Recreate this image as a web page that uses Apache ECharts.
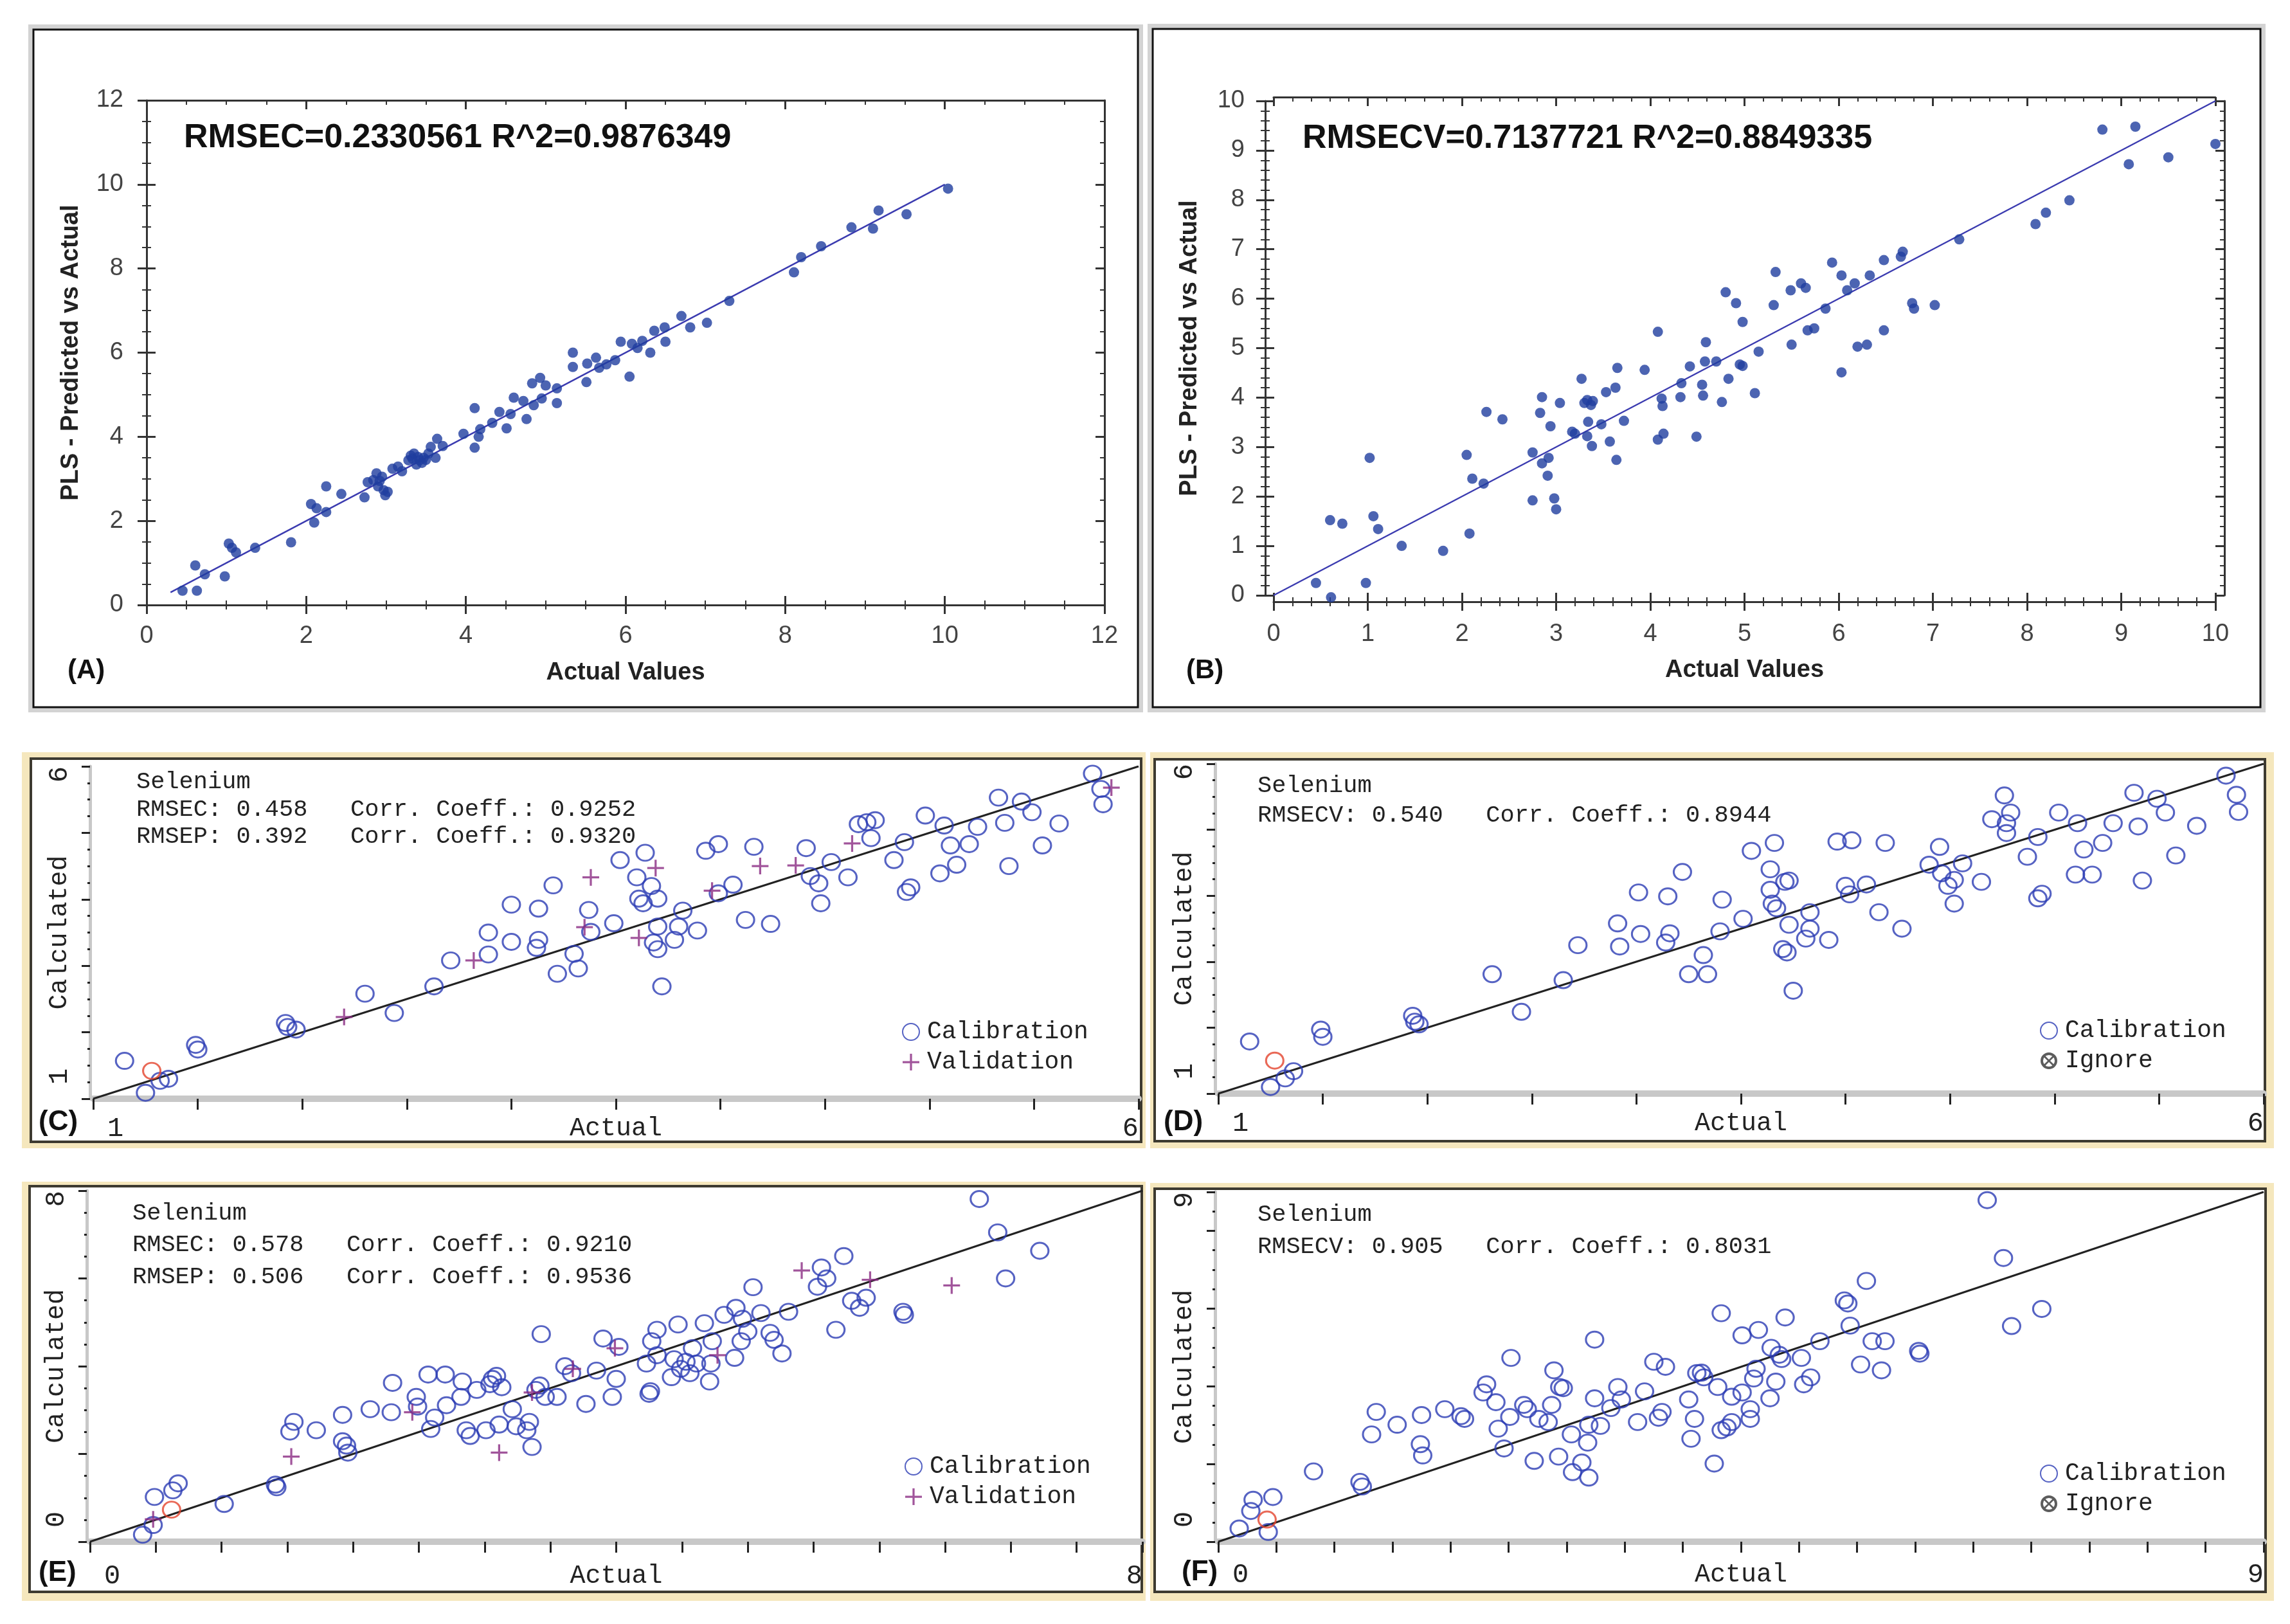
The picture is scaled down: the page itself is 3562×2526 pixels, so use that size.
<!DOCTYPE html>
<html>
<head>
<meta charset="utf-8">
<title>Selenium PLS plots</title>
<script src="https://cdn.jsdelivr.net/npm/echarts@6.0.0/dist/echarts.min.js"></script>
<style>
  html, body { margin: 0; padding: 0; background: #fff; }
  #main { width: 3562px; height: 2526px; }
</style>
</head>
<body>
<div id="main"></div>
<script>
// values: [actual, predicted]
var aPoints = [
    [0.45, 0.34], [0.63, 0.34], [0.61, 0.94], [0.73, 0.73], [0.98, 0.68], [1.03, 1.46], [1.07, 1.36], [1.12, 1.25], [1.36, 1.36], [1.81, 1.49],
    [2.06, 2.40], [2.13, 2.30], [2.10, 1.96], [2.25, 2.21], [2.25, 2.82], [2.44, 2.64], [2.73, 2.56], [2.77, 2.92], [2.84, 2.97], [2.88, 3.13],
    [2.90, 2.82], [2.95, 3.05], [2.97, 2.73], [2.99, 2.61], [3.02, 2.69], [3.08, 3.24], [3.15, 3.29], [3.20, 3.18], [3.28, 3.44], [3.31, 3.55],
    [3.35, 3.60], [3.38, 3.34], [3.42, 3.44], [3.47, 3.50], [3.53, 3.60], [3.56, 3.76], [3.62, 3.50], [3.64, 3.95], [3.71, 3.78], [3.97, 4.07],
    [4.11, 4.68], [4.11, 3.74], [4.16, 4.00], [4.18, 4.18], [4.33, 4.33], [4.42, 4.59], [4.51, 4.20], [4.56, 4.54], [4.60, 4.93], [4.72, 4.85],
    [4.76, 4.42], [4.83, 5.27], [4.85, 4.75], [4.93, 5.40], [4.95, 4.91], [5.00, 5.22], [5.14, 5.15], [5.14, 4.80], [5.34, 6.00], [5.34, 5.66],
    [5.51, 5.30], [5.52, 5.74], [5.63, 5.88], [5.67, 5.64], [5.76, 5.72], [5.87, 5.82], [5.94, 6.26], [6.05, 5.43], [6.08, 6.21], [6.15, 6.11],
    [6.21, 6.28], [6.31, 6.00], [6.36, 6.52], [6.49, 6.60], [6.50, 6.26], [6.70, 6.87], [6.81, 6.60], [7.02, 6.71], [7.30, 7.23], [8.11, 7.91],
    [8.20, 8.27], [8.45, 8.53], [8.83, 8.98], [9.10, 8.95], [9.17, 9.38], [9.52, 9.29], [10.04, 9.90],
    [3.33, 3.48], [3.45, 3.38], [3.50, 3.45], [2.92, 2.95], [3.40, 3.52]
];
var aFit = [[0.3, 0.3], [10, 10]];

var bPoints = [
    [0.45, 0.25], [0.61, -0.04], [0.60, 1.52], [0.73, 1.45], [0.98, 0.25], [1.02, 2.78], [1.06, 1.60], [1.11, 1.34], [1.36, 1.00], [1.80, 0.90],
    [2.05, 2.84], [2.08, 1.25], [2.11, 2.36], [2.23, 2.26], [2.26, 3.71], [2.43, 3.56], [2.75, 2.89], [2.75, 1.92], [2.83, 3.69], [2.85, 4.01],
    [2.85, 2.67], [2.92, 2.78], [2.91, 2.42], [2.94, 3.42], [2.98, 1.96], [3.00, 1.74], [3.04, 3.89], [3.17, 3.31], [3.20, 3.27], [3.27, 4.38],
    [3.30, 3.89], [3.33, 3.95], [3.34, 3.51], [3.33, 3.22], [3.37, 3.85], [3.38, 3.02], [3.39, 3.93], [3.48, 3.46], [3.53, 4.11], [3.57, 3.11],
    [3.63, 4.20], [3.64, 2.74], [3.65, 4.60], [3.72, 3.53], [3.94, 4.56], [4.08, 5.33], [4.08, 3.15], [4.12, 3.98], [4.13, 3.83], [4.14, 3.27],
    [4.32, 4.01], [4.33, 4.29], [4.42, 4.63], [4.49, 3.21], [4.55, 4.26], [4.56, 4.04], [4.58, 4.73], [4.59, 5.12], [4.70, 4.73], [4.76, 3.91],
    [4.80, 6.13], [4.83, 4.38], [4.91, 5.91], [4.95, 4.67], [4.98, 4.64], [4.98, 5.53], [5.11, 4.09], [5.15, 4.93], [5.31, 5.87], [5.33, 6.54],
    [5.49, 6.17], [5.50, 5.07], [5.60, 6.31], [5.65, 6.22], [5.67, 5.36], [5.74, 5.40], [5.86, 5.80], [5.93, 6.73], [6.03, 4.51], [6.03, 6.47],
    [6.09, 6.17], [6.17, 6.31], [6.20, 5.03], [6.30, 5.07], [6.33, 6.47], [6.48, 6.78], [6.48, 5.36], [6.66, 6.85], [6.68, 6.95], [6.78, 5.91],
    [6.80, 5.80], [7.02, 5.87], [7.28, 7.20], [8.09, 7.51], [8.20, 7.74], [8.45, 7.99], [8.80, 9.42], [9.08, 8.72], [9.15, 9.48], [9.50, 8.86],
    [10.0, 9.13]
];
var bFit = [[0, 0], [10, 10]];

var cCalibration = [
    [1.15, 1.57], [1.25, 1.09], [1.32, 1.27], [1.36, 1.30], [1.49, 1.81], [1.50, 1.74], [1.92, 2.14], [1.93, 2.08], [1.97, 2.04], [2.30, 2.58],
    [2.44, 2.29], [2.63, 2.69], [2.71, 3.08], [2.89, 3.17], [2.89, 3.50], [3.00, 3.92], [3.00, 3.36], [3.12, 3.27], [3.13, 3.39], [3.13, 3.86],
    [3.20, 4.21], [3.22, 2.88], [3.30, 3.18], [3.32, 2.96], [3.37, 3.84], [3.38, 3.51], [3.49, 3.64], [3.52, 4.59], [3.60, 4.33], [3.61, 4.01],
    [3.64, 4.70], [3.63, 3.94], [3.67, 4.20], [3.68, 3.35], [3.70, 4.01], [3.70, 3.59], [3.70, 3.25], [3.72, 2.69], [3.78, 3.39], [3.80, 3.59],
    [3.82, 3.83], [3.89, 3.53], [3.93, 4.73], [3.99, 4.09], [3.99, 4.83], [4.06, 4.22], [4.12, 3.69], [4.16, 4.79], [4.24, 3.63], [4.41, 4.77],
    [4.43, 4.35], [4.47, 4.24], [4.48, 3.94], [4.53, 4.56], [4.61, 4.33], [4.66, 5.13], [4.70, 5.16], [4.74, 5.19], [4.72, 4.92], [4.83, 4.59],
    [4.88, 4.86], [4.89, 4.11], [4.91, 4.18], [4.98, 5.26], [5.05, 4.39], [5.07, 5.11], [5.10, 4.81], [5.13, 4.52], [5.19, 4.83], [5.23, 5.09],
    [5.33, 5.53], [5.36, 5.15], [5.38, 4.50], [5.44, 5.47], [5.49, 5.31], [5.54, 4.81], [5.62, 5.14], [5.78, 5.89], [5.82, 5.66], [5.83, 5.43]
];
var cValidation = [
    [2.20, 2.23], [2.82, 3.08], [3.35, 3.58], [3.38, 4.33], [3.61, 3.42], [3.69, 4.47], [3.96, 4.13], [4.19, 4.50], [4.36, 4.51], [4.63, 4.84], [5.87, 5.68]
];
var cOutlier = [[1.28, 1.42]];
var cFit = [[1, 1], [6, 6]];

var dCalibration = [
    [1.15, 1.79], [1.25, 1.10], [1.32, 1.23], [1.36, 1.34], [1.49, 1.97], [1.50, 1.86], [1.93, 2.18], [1.94, 2.09], [1.96, 2.05], [2.31, 2.81],
    [2.45, 2.24], [2.65, 2.72], [2.72, 3.25], [2.91, 3.58], [2.92, 3.23], [3.01, 4.05], [3.02, 3.42], [3.14, 3.29], [3.16, 3.43], [3.15, 3.99],
    [3.22, 4.36], [3.25, 2.81], [3.32, 3.10], [3.34, 2.81], [3.40, 3.46], [3.41, 3.94], [3.51, 3.65], [3.55, 4.68], [3.64, 4.40], [3.66, 4.80],
    [3.64, 4.09], [3.65, 3.88], [3.67, 3.81], [3.71, 4.21], [3.73, 4.23], [3.73, 3.56], [3.70, 3.19], [3.72, 3.14], [3.75, 2.56], [3.81, 3.35],
    [3.83, 3.50], [3.83, 3.75], [3.92, 3.33], [3.96, 4.82], [4.03, 4.84], [4.00, 4.15], [4.02, 4.02], [4.10, 4.17], [4.16, 3.75], [4.19, 4.80],
    [4.27, 3.50], [4.40, 4.47], [4.45, 4.74], [4.46, 4.34], [4.49, 4.15], [4.52, 3.88], [4.52, 4.24], [4.56, 4.49], [4.65, 4.21], [4.70, 5.16],
    [4.76, 5.52], [4.79, 5.26], [4.77, 5.10], [4.77, 4.95], [4.87, 4.59], [4.92, 4.89], [4.92, 3.96], [4.94, 4.03], [5.02, 5.26], [5.10, 4.32],
    [5.11, 5.10], [5.14, 4.70], [5.18, 4.32], [5.23, 4.80], [5.28, 5.10], [5.38, 5.56], [5.40, 5.05], [5.42, 4.23], [5.49, 5.47], [5.53, 5.26],
    [5.58, 4.61], [5.68, 5.06], [5.82, 5.82], [5.87, 5.53], [5.88, 5.27]
];
var dOutlier = [[1.27, 1.50]];
var dFit = [[1, 1], [6, 6]];

var eCalibration = [
    [0.40, 0.16], [0.48, 0.38], [0.49, 1.02], [0.63, 1.17], [0.67, 1.33], [1.02, 0.86], [1.41, 1.30], [1.42, 1.24], [1.52, 2.51], [1.55, 2.73],
    [1.72, 2.54], [1.92, 2.89], [1.92, 2.29], [1.95, 2.19], [1.96, 2.03], [2.13, 3.02], [2.29, 2.95], [2.30, 3.62], [2.48, 3.30], [2.49, 3.08],
    [2.57, 3.81], [2.59, 2.57], [2.62, 2.83], [2.70, 3.81], [2.71, 3.11], [2.82, 3.30], [2.83, 3.65], [2.86, 2.54], [2.89, 2.41], [2.94, 3.46],
    [3.01, 2.54], [3.04, 3.59], [3.06, 3.71], [3.09, 3.78], [3.11, 2.67], [3.13, 3.52], [3.21, 3.02], [3.24, 2.63], [3.32, 2.54], [3.34, 2.73],
    [3.36, 2.16], [3.39, 3.46], [3.42, 3.56], [3.43, 4.73], [3.46, 3.30], [3.55, 3.30], [3.61, 4.00], [3.66, 3.84], [3.77, 3.14], [3.85, 3.90],
    [3.90, 4.63], [3.97, 3.30], [4.00, 3.71], [4.02, 4.44], [4.23, 4.06], [4.25, 3.37], [4.26, 3.43], [4.27, 4.57], [4.31, 4.83], [4.31, 4.25],
    [4.42, 3.75], [4.44, 4.16], [4.47, 4.95], [4.49, 3.94], [4.53, 4.10], [4.56, 3.84], [4.58, 4.41], [4.61, 4.06], [4.67, 4.98], [4.71, 3.65],
    [4.72, 4.06], [4.73, 4.57], [4.82, 5.17], [4.90, 4.19], [4.91, 5.33], [4.95, 4.57], [4.96, 5.08], [5.00, 4.79], [5.04, 5.80], [5.10, 5.21],
    [5.17, 4.76], [5.20, 4.60], [5.26, 4.29], [5.31, 5.24], [5.53, 5.81], [5.56, 6.25], [5.60, 6.00], [5.67, 4.83], [5.73, 6.51], [5.79, 5.49],
    [5.85, 5.33], [5.90, 5.56], [6.18, 5.24], [6.19, 5.17], [6.76, 7.81], [6.90, 7.05], [6.96, 6.00], [7.22, 6.63]
];
var eValidation = [
    [0.48, 0.51], [1.53, 1.94], [2.45, 2.95], [3.11, 2.03], [3.36, 3.40], [3.67, 3.94], [3.99, 4.41], [4.77, 4.25], [5.41, 6.18], [5.93, 5.97], [6.55, 5.84]
];
var eOutlier = [[0.62, 0.73]];
var eFit = [[0, 0], [8, 8]];

var fCalibration = [
    [0.18, 0.34], [0.28, 0.79], [0.30, 1.08], [0.43, 0.25], [0.47, 1.15], [0.82, 1.81], [1.22, 1.54], [1.24, 1.42], [1.32, 2.76], [1.36, 3.34],
    [1.54, 3.01], [1.74, 2.51], [1.76, 2.22], [1.75, 3.26], [1.95, 3.41], [2.09, 3.23], [2.12, 3.16], [2.28, 3.84], [2.31, 4.05], [2.39, 3.59],
    [2.41, 2.91], [2.46, 2.40], [2.51, 3.21], [2.52, 4.73], [2.63, 3.52], [2.66, 3.41], [2.72, 2.08], [2.76, 3.16], [2.84, 3.08], [2.87, 3.52],
    [2.89, 4.41], [2.93, 2.19], [2.94, 3.98], [2.97, 3.95], [3.04, 2.76], [3.05, 1.79], [3.13, 2.04], [3.18, 2.55], [3.19, 1.65], [3.19, 3.01],
    [3.24, 3.69], [3.24, 5.20], [3.29, 2.98], [3.38, 3.44], [3.44, 3.98], [3.47, 3.66], [3.61, 3.08], [3.67, 3.87], [3.75, 4.63], [3.79, 3.19],
    [3.82, 3.34], [3.85, 4.50], [4.05, 3.66], [4.07, 2.65], [4.10, 3.16], [4.12, 4.34], [4.16, 4.35], [4.18, 4.23], [4.27, 2.01], [4.30, 3.98],
    [4.33, 5.88], [4.33, 2.87], [4.38, 2.94], [4.42, 3.73], [4.42, 3.08], [4.51, 3.84], [4.51, 5.31], [4.58, 3.41], [4.58, 3.16], [4.61, 4.20],
    [4.63, 4.45], [4.65, 5.45], [4.75, 3.69], [4.76, 4.99], [4.80, 4.12], [4.83, 4.81], [4.85, 4.70], [4.88, 5.77], [5.02, 4.73], [5.04, 4.05],
    [5.10, 4.23], [5.18, 5.16], [5.39, 6.21], [5.42, 6.13], [5.44, 5.56], [5.53, 4.56], [5.58, 6.71], [5.63, 5.16], [5.71, 4.41], [5.74, 5.16],
    [6.03, 4.91], [6.04, 4.84], [6.62, 8.79], [6.76, 7.30], [6.83, 5.55], [7.09, 5.99]
];
var fOutlier = [[0.42, 0.57]];
var fFit = [[0, 0], [9, 9]];

var statsA = 'RMSEC=0.2330561 R^2=0.9876349';
var statsB = 'RMSECV=0.7137721 R^2=0.8849335';
var statsC = ['Selenium', 'RMSEC: 0.458   Corr. Coeff.: 0.9252', 'RMSEP: 0.392   Corr. Coeff.: 0.9320'];
var statsD = ['Selenium', 'RMSECV: 0.540   Corr. Coeff.: 0.8944'];
var statsE = ['Selenium', 'RMSEC: 0.578   Corr. Coeff.: 0.9210', 'RMSEP: 0.506   Corr. Coeff.: 0.9536'];
var statsF = ['Selenium', 'RMSECV: 0.905   Corr. Coeff.: 0.8031'];

var SANS = '"Liberation Sans", Arial, sans-serif';
var MONO = '"Liberation Mono", "DejaVu Sans Mono", monospace';
var DOT_BLUE = '#1f3d9f';
var RING_BLUE = '#2c3cb4';
var PURPLE = '#8a2a82';
var PLUS = 'path://M10.5,0 H13.5 V10.5 H24 V13.5 H13.5 V24 H10.5 V13.5 H0 V10.5 H10.5 Z';
var IGNORE = 'path://M0,-10 A10,10 0 1 1 0,10 A10,10 0 1 1 0,-10 Z M0,-7 A7,7 0 1 0 0,7 A7,7 0 1 0 0,-7 Z ' +
    'M-6,-4.5 L-4.5,-6 L6,4.5 L4.5,6 Z M4.5,-6 L6,-4.5 L-4.5,6 L-6,4.5 Z';

var myChart = echarts.init(document.getElementById('main'), null, {renderer: 'canvas'});

// framed axis for the two upper panels: 'main' = line + outer ticks + labels,
// 'inner' = inward ticks only (gives the crossing ticks), 'mirror' = line + inward ticks
function boxAxis(grid, position, max, step, minor, offset, mode, extra) {
    var ax = {
        gridIndex: grid, type: 'value', position: position, min: 0, max: max, interval: step, offset: offset,
        splitLine: {show: false},
        axisLine: {show: mode !== 'inner', onZero: false, lineStyle: {color: '#333', width: 3}},
        axisTick: {show: true, inside: mode !== 'main', length: 14, lineStyle: {color: '#333', width: 3}},
        minorTick: {show: true, splitNumber: minor, length: 7, lineStyle: {color: '#333', width: 2}},
        axisLabel: {show: mode === 'main', fontFamily: SANS, fontSize: 38, color: '#444'},
        nameMoveOverlap: false
    };
    if (extra) {
        for (var k in extra) {
            if (k === 'axisLabel') {
                for (var j in extra.axisLabel) ax.axisLabel[j] = extra.axisLabel[j];
            } else {
                ax[k] = extra[k];
            }
        }
    }
    return ax;
}

function endsOnly(min, max) {
    return function (v) {
        return (Math.abs(v - min) < 1e-9 || Math.abs(v - max) < 1e-9) ? String(v) : '';
    };
}

// x axis of the lower (software screenshot) panels
function oldX(grid, min, max, margin) {
    return {
        gridIndex: grid, type: 'value', position: 'bottom', min: min, max: max, interval: 0.5,
        splitLine: {show: false},
        axisLine: {onZero: false, lineStyle: {color: '#c8c8c8', width: 10}},
        axisTick: {length: 17, lineStyle: {color: '#222', width: 3}},
        axisLabel: {
            margin: margin, fontFamily: MONO, fontSize: 42, color: '#222', padding: [0, 0, 0, 22],
            formatter: endsOnly(min, max), showMinLabel: true, showMaxLabel: true,
            alignMinLabel: 'left', alignMaxLabel: 'right'
        },
        name: 'Actual', nameLocation: 'middle', nameGap: margin, nameMoveOverlap: false,
        nameTextStyle: {fontFamily: MONO, fontSize: 40, color: '#222'}
    };
}

function oldY(grid, min, max, step) {
    return {
        gridIndex: grid, type: 'value', position: 'left', min: min, max: max, interval: step, offset: 5,
        splitLine: {show: false},
        axisLine: {onZero: false, lineStyle: {color: '#c8c8c8', width: 5}},
        axisTick: {length: 13, lineStyle: {color: '#222', width: 3}},
        minorTick: {show: true, splitNumber: 4, length: 4, lineStyle: {color: '#222', width: 3}},
        axisLabel: {
            rotate: 90, margin: 26, fontFamily: MONO, fontSize: 42, color: '#222', padding: [0, 0, 0, 22],
            formatter: endsOnly(min, max), showMinLabel: true, showMaxLabel: true,
            alignMinLabel: 'left', alignMaxLabel: 'right'
        },
        name: 'Calculated', nameLocation: 'middle', nameGap: 28, nameMoveOverlap: false,
        nameTextStyle: {fontFamily: MONO, fontSize: 40, color: '#222'}
    };
}

function fitLine(data, xi, color, width) {
    return {
        type: 'line', data: data, xAxisIndex: xi, yAxisIndex: xi, showSymbol: false, silent: true,
        lineStyle: {color: color, width: width}, z: 3
    };
}

function rings(name, data, xi, color) {
    return {
        type: 'scatter', name: name, data: data, xAxisIndex: xi, yAxisIndex: xi, clip: false,
        symbol: 'circle', symbolSize: [27, 25],
        itemStyle: {color: 'rgba(0,0,0,0)', borderColor: color, borderWidth: 3}, z: 4
    };
}

function pluses(data, xi) {
    return {
        type: 'scatter', name: 'Validation', data: data, xAxisIndex: xi, yAxisIndex: xi, clip: false,
        symbol: PLUS, symbolSize: 26, itemStyle: {color: PURPLE}, z: 5
    };
}

function ignoreSeries(xi) {
    return {
        type: 'scatter', name: 'Ignore', data: [], xAxisIndex: xi, yAxisIndex: xi,
        symbol: IGNORE, symbolSize: 22, itemStyle: {color: '#333'}
    };
}

function panelLegend(left, top, second) {
    return {
        orient: 'vertical', left: left, top: top, padding: 0, itemGap: 7, itemWidth: 28, itemHeight: 26,
        selectedMode: false,
        textStyle: {fontFamily: MONO, fontSize: 38, lineHeight: 40, color: '#222', padding: [0, 0, 0, 6]},
        data: [
            {name: 'Calibration', icon: 'circle'},
            second === 'Validation' ? {name: 'Validation', icon: PLUS} : {name: 'Ignore', icon: IGNORE}
        ]
    };
}

function statBlock(left, top, lh, lines) {
    return {
        left: left, top: top, text: lines.join('\n'), padding: 0,
        textStyle: {fontFamily: MONO, fontSize: 37, lineHeight: lh, fontWeight: 'normal', color: '#222'}
    };
}

function tag(left, top, text, size) {
    return {
        left: left, top: top, text: text, padding: 0,
        textStyle: {fontFamily: SANS, fontSize: size, lineHeight: size, fontWeight: 'bold', color: '#111'}
    };
}

function rect(x, y, w, h, style) {
    return {type: 'rect', z: -10, silent: true, shape: {x: x, y: y, width: w, height: h}, style: style};
}

var nameStyle = {fontFamily: SANS, fontSize: 38, fontWeight: 'bold', color: '#222'};

var option = {
    animation: false,
    backgroundColor: '#fff',
    graphic: [
        rect(48, 42, 1726, 1062, {fill: 'none', stroke: '#d3d3d3', lineWidth: 8}),
        rect(52, 46, 1718, 1054, {fill: '#fff', stroke: '#111', lineWidth: 3}),
        rect(1789, 41, 1731, 1063, {fill: 'none', stroke: '#d3d3d3', lineWidth: 8}),
        rect(1793, 45, 1723, 1055, {fill: '#fff', stroke: '#111', lineWidth: 3}),
        rect(34, 1170, 1748, 616, {fill: '#f5e7bd'}),
        rect(48, 1180, 1727, 596, {fill: '#fff', stroke: '#3d3a30', lineWidth: 4}),
        rect(1789, 1170, 1748, 616, {fill: '#f5e7bd'}),
        rect(1796, 1181, 1727, 594, {fill: '#fff', stroke: '#3d3a30', lineWidth: 4}),
        rect(34, 1838, 1748, 652, {fill: '#f5e7bd'}),
        rect(46, 1845, 1730, 631, {fill: '#fff', stroke: '#3d3a30', lineWidth: 4}),
        rect(1789, 1840, 1748, 650, {fill: '#f5e7bd'}),
        rect(1796, 1849, 1728, 627, {fill: '#fff', stroke: '#3d3a30', lineWidth: 4})
    ],
    title: [
        {left: 286, top: 189, text: statsA, padding: 0,
            textStyle: {fontFamily: SANS, fontSize: 52, lineHeight: 52, fontWeight: 'bold', color: '#111'}},
        {left: 2026, top: 190, text: statsB, padding: 0,
            textStyle: {fontFamily: SANS, fontSize: 52, lineHeight: 52, fontWeight: 'bold', color: '#111'}},
        statBlock(212, 1195, 42.5, statsC),
        statBlock(1956, 1199, 46, statsD),
        statBlock(206, 1862, 49.5, statsE),
        statBlock(1956, 1864, 50, statsF),
        tag(105, 1022, '(A)', 42),
        tag(1845, 1022, '(B)', 42),
        tag(60, 1724, '(C)', 44),
        tag(1810, 1724, '(D)', 44),
        tag(60, 2425, '(E)', 44),
        tag(1838, 2424, '(F)', 44)
    ],
    legend: [
        panelLegend(1403, 1585, 'Validation'),
        panelLegend(3173, 1583, 'Ignore'),
        panelLegend(1407, 2261, 'Validation'),
        panelLegend(3173, 2272, 'Ignore')
    ],
    grid: [
        {left: 228, top: 156, width: 1490, height: 785, outerBoundsMode: 'none'},
        {left: 1981, top: 157, width: 1465, height: 769, outerBoundsMode: 'none'},
        {left: 145, top: 1192, width: 1626, height: 517, outerBoundsMode: 'none'},
        {left: 1895, top: 1188, width: 1626, height: 513, outerBoundsMode: 'none'},
        {left: 140, top: 1852, width: 1637, height: 546, outerBoundsMode: 'none'},
        {left: 1895, top: 1854, width: 1626, height: 544, outerBoundsMode: 'none'}
    ],
    xAxis: [
        oldX(2, 1, 6, 26),
        oldX(3, 1, 6, 26),
        oldX(4, 0, 8, 33),
        oldX(5, 0, 9, 31),
        boxAxis(0, 'bottom', 12, 2, 4, 0, 'main', {
            axisLabel: {margin: 30}, name: 'Actual Values', nameLocation: 'middle', nameGap: 87, nameTextStyle: nameStyle
        }),
        boxAxis(0, 'bottom', 12, 2, 4, 0, 'inner'),
        boxAxis(0, 'top', 12, 2, 4, 0, 'mirror'),
        boxAxis(1, 'bottom', 10, 1, 5, 10, 'main', {
            axisLabel: {margin: 32}, name: 'Actual Values', nameLocation: 'middle', nameGap: 88, nameTextStyle: nameStyle
        }),
        boxAxis(1, 'bottom', 10, 1, 5, 10, 'inner'),
        boxAxis(1, 'top', 10, 1, 5, 6, 'mirror')
    ],
    yAxis: [
        oldY(2, 1, 6, 1),
        oldY(3, 1, 6, 1),
        oldY(4, 0, 8, 2),
        oldY(5, 0, 9, 2),
        boxAxis(0, 'left', 12, 2, 4, 0, 'main', {
            axisLabel: {margin: 36}, name: 'PLS - Predicted vs Actual', nameLocation: 'middle', nameGap: 98, nameTextStyle: nameStyle
        }),
        boxAxis(0, 'left', 12, 2, 4, 0, 'inner'),
        boxAxis(0, 'right', 12, 2, 4, 0, 'mirror'),
        boxAxis(1, 'left', 10, 1, 5, 13, 'main', {
            axisLabel: {margin: 32}, name: 'PLS - Predicted vs Actual', nameLocation: 'middle', nameGap: 98, nameTextStyle: nameStyle
        }),
        boxAxis(1, 'left', 10, 1, 5, 13, 'inner'),
        boxAxis(1, 'right', 10, 1, 5, 14, 'mirror')
    ],
    series: [
        // (A) calibration
        fitLine(aFit, 4, '#3b3bb0', 2.5),
        {type: 'scatter', name: 'PLS calibration', data: aPoints, xAxisIndex: 4, yAxisIndex: 4, clip: false,
            symbol: 'circle', symbolSize: 16, itemStyle: {color: DOT_BLUE}, z: 4},
        // (B) cross validation
        fitLine(bFit, 7, '#3b3bb0', 2.5),
        {type: 'scatter', name: 'PLS cross-validation', data: bPoints, xAxisIndex: 7, yAxisIndex: 7, clip: false,
            symbol: 'circle', symbolSize: 16, itemStyle: {color: DOT_BLUE}, z: 4},
        // (C)
        fitLine(cFit, 0, '#222', 3),
        rings('Calibration', cCalibration, 0, RING_BLUE),
        pluses(cValidation, 0),
        rings('Outlier C', cOutlier, 0, '#e3432d'),
        // (D)
        fitLine(dFit, 1, '#222', 3),
        rings('Calibration', dCalibration, 1, RING_BLUE),
        ignoreSeries(1),
        rings('Outlier D', dOutlier, 1, '#e3432d'),
        // (E)
        fitLine(eFit, 2, '#222', 3),
        rings('Calibration', eCalibration, 2, RING_BLUE),
        pluses(eValidation, 2),
        rings('Outlier E', eOutlier, 2, '#e3432d'),
        // (F)
        fitLine(fFit, 3, '#222', 3),
        rings('Calibration', fCalibration, 3, RING_BLUE),
        ignoreSeries(3),
        rings('Outlier F', fOutlier, 3, '#e3432d')
    ]
};

myChart.setOption(option);
</script>
</body>
</html>
